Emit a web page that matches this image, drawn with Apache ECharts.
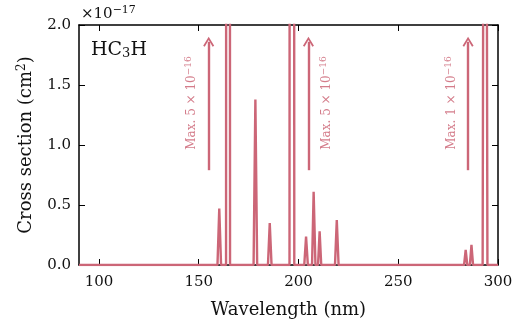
<!DOCTYPE html>
<html><head><meta charset="utf-8">
<script src="https://cdn.jsdelivr.net/npm/echarts@6/dist/echarts.min.js"></script>
<style>html,body{margin:0;padding:0;background:#fff}#c{width:525px;height:324px}</style>
</head><body><div id="c"></div>
<script>
// Wavelength (nm)
var wavelength = [90, 159.4, 160.3, 161.2, 163.7, 164.7, 165.7, 177.5, 178.4, 179.3, 184.7, 185.6, 186.5,
  195.5, 196.7, 197.9, 202.9, 203.8, 204.7, 206.8, 207.6, 208.5, 209.8, 210.6, 211.4, 218.3, 219.2, 220.1,
  283.0, 283.8, 284.6, 285.9, 286.7, 287.5, 292.3, 293.5, 294.7, 300];
// Cross section in units of 1e-17 cm^2
var crossSection = [0, 0, 0.47, 0, 0, 50, 0, 0, 1.38, 0, 0, 0.35, 0,
  0, 50, 0, 0, 0.236, 0, 0, 0.61, 0, 0, 0.28, 0, 0, 0.375, 0,
  0, 0.125, 0, 0, 0.167, 0, 0, 10, 0, 0];
var xTicks = [100, 150, 200, 250, 300];
var arrowX = [155, 205, 285];
var arrowFrom = 0.79, arrowTo = 1.86;
var noteX = [146.5, 214.2, 276.8];
var noteY = 1.35;
var noteMant = ['5', '5', '1'];

var col = '#cc6677';
var font = 'DejaVu Serif';
var txt = '#111';
var chevron = 'path://M0,9 L5,0 L10,9 L8.6,10 L5,3.2 L1.4,10 Z';

var lineData = wavelength.map(function (w, i) { return [w, crossSection[i]]; });
var notes = noteX.map(function (x, i) { return { value: [x, noteY], m: noteMant[i] }; });
var arrows = arrowX.map(function (x) { return [{ coord: [x, arrowFrom] }, { coord: [x, arrowTo] }]; });

function xAxisCfg(pos, labels) {
  return {
    type: 'value', position: pos, min: 90, max: 300,
    axisLine: { show: true, onZero: false, lineStyle: { color: '#000', width: 1.5 } },
    axisTick: { show: true, inside: true, length: 6, customValues: xTicks, lineStyle: { color: '#000', width: 1 } },
    axisLabel: { show: labels, customValues: xTicks, margin: 10, fontFamily: font, fontSize: 15, color: txt },
    splitLine: { show: false },
    name: labels ? 'Wavelength (nm)' : '', nameLocation: 'middle', nameGap: 36,
    nameTextStyle: { fontFamily: font, fontSize: 18, color: txt }
  };
}
function yAxisCfg(pos, labels) {
  return {
    type: 'value', position: pos, min: 0, max: 2, interval: 0.5,
    axisLine: { show: true, onZero: false, lineStyle: { color: '#000', width: 1.5 } },
    axisTick: { show: true, inside: true, length: 6, lineStyle: { color: '#000', width: 1 } },
    axisLabel: { show: labels, margin: 8, fontFamily: font, fontSize: 15, color: txt,
      formatter: function (v) { return v.toFixed(1); } },
    splitLine: { show: false },
    name: labels ? 'Cross section (cm{s|2})' : '', nameLocation: 'middle', nameGap: 42,
    nameTextStyle: { fontFamily: font, fontSize: 18, color: txt,
      rich: { s: { fontFamily: font, fontSize: 12, color: txt, padding: [0, 0, 9, 0] } } }
  };
}

var chart = echarts.init(document.getElementById('c'), null, { renderer: 'canvas' });
chart.setOption({
  animation: false,
  backgroundColor: '#fff',
  grid: { left: 79, top: 25, right: 27, bottom: 59, containLabel: false },
  xAxis: [xAxisCfg('bottom', true), xAxisCfg('top', false)],
  yAxis: [yAxisCfg('left', true), yAxisCfg('right', false)],
  graphic: [
    { type: 'text', left: 81, top: 5, style: { text: '×10{s|−17}', fontFamily: font, fontSize: 15, fill: txt,
        rich: { s: { fontFamily: font, fontSize: 11, fill: txt, padding: [0, 0, 8, 0] } } } },
    { type: 'text', left: 91, top: 41, style: { text: 'HC{b|3}H', fontFamily: font, fontSize: 19, fill: txt,
        rich: { b: { fontFamily: font, fontSize: 13, fill: txt, padding: [7, 0, 0, 0] } } } }
  ],
  series: [
    {
      type: 'line', data: lineData, showSymbol: false, clip: true, z: 5,
      lineStyle: { color: col, width: 2.4 },
      markLine: {
        silent: true, symbol: ['none', chevron], symbolSize: [11, 10],
        label: { show: false },
        lineStyle: { color: col, width: 2.4, type: 'solid' },
        data: arrows
      }
    },
    {
      type: 'scatter', data: notes, symbolSize: 0, silent: true, z: 6,
      label: {
        show: true, position: 'inside', rotate: 90, color: col, opacity: 0.85,
        fontFamily: font, fontSize: 12,
        formatter: function (p) { return 'Max. ' + p.data.m + ' × 10{s|−16}'; },
        rich: { s: { fontFamily: font, fontSize: 9, color: col, padding: [0, 0, 7, 0] } }
      }
    }
  ]
});
</script></body></html>
